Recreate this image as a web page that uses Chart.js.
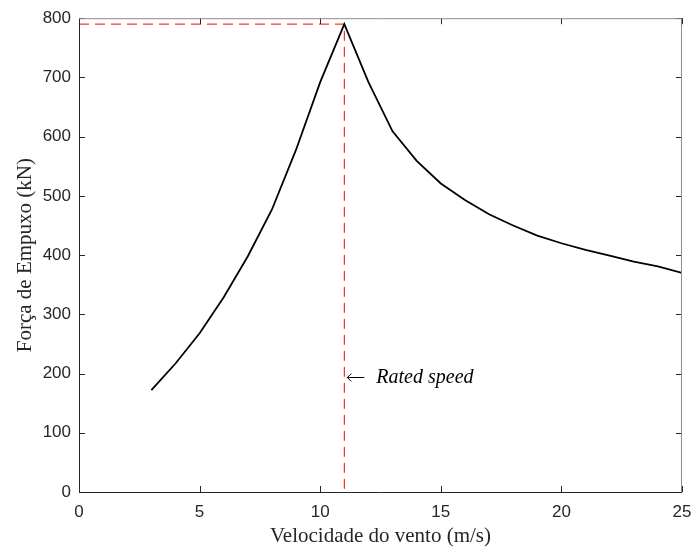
<!DOCTYPE html>
<html>
<head>
<meta charset="utf-8">
<script src="https://cdn.jsdelivr.net/npm/chart.js@4/dist/chart.umd.min.js"></script>
<style>
  html, body { margin: 0; padding: 0; background: #fff; }
  #wrap { width: 692px; height: 549px; }
</style>
</head>
<body>
<div id="wrap"><canvas id="thrustChart" width="692" height="549"></canvas></div>
<script>
const windSpeed = [3, 4, 5, 6, 7, 8, 9, 10, 11, 12, 13, 14, 15, 16, 17, 18, 19, 20, 21, 22, 23, 24, 25];
const thrust = [172, 217, 268, 329, 398, 477, 578, 692, 790, 692, 609, 559, 521, 493, 469, 450, 433, 420, 409, 399, 389, 381, 370];
const ratedSpeed = 11;
const ratedThrust = 790;
const xTicks = [0, 5, 10, 15, 20, 25];
const yTicks = [0, 100, 200, 300, 400, 500, 600, 700, 800];

const curve = windSpeed.map((v, i) => ({ x: v, y: thrust[i] }));
const ratedLine = [
  { x: 0, y: ratedThrust },
  { x: ratedSpeed, y: ratedThrust },
  { x: ratedSpeed, y: 0 }
];

// MATLAB style box with inward ticks + the text label
const framePlugin = {
  id: 'frame',
  afterDatasetsDraw(chart) {
    const { ctx, chartArea: a, scales: { x, y } } = chart;
    ctx.save();
    ctx.lineWidth = 1;
    ctx.strokeStyle = '#262626';
    ctx.beginPath();
    xTicks.forEach(t => {
      const px = Math.round(x.getPixelForValue(t)) + 0.5;
      ctx.moveTo(px, a.bottom); ctx.lineTo(px, a.bottom - 6);
      ctx.moveTo(px, a.top); ctx.lineTo(px, a.top + 6);
    });
    yTicks.forEach(t => {
      const py = Math.round(y.getPixelForValue(t)) + 0.5;
      ctx.moveTo(a.left, py); ctx.lineTo(a.left + 6, py);
      ctx.moveTo(a.right, py); ctx.lineTo(a.right - 6, py);
    });
    ctx.stroke();

    ctx.strokeStyle = '#262626';
    ctx.beginPath();
    ctx.moveTo(a.left + 0.5, a.top);
    ctx.lineTo(a.left + 0.5, a.bottom + 0.5);
    ctx.lineTo(a.right, a.bottom + 0.5);
    ctx.stroke();
    ctx.strokeStyle = '#8c8c8c';
    ctx.beginPath();
    ctx.moveTo(a.left, a.top + 0.5);
    ctx.lineTo(a.right - 0.5, a.top + 0.5);
    ctx.lineTo(a.right - 0.5, a.bottom);
    ctx.stroke();

    // arrow + label
    const lx = x.getPixelForValue(ratedSpeed);
    const ly = Math.round(y.getPixelForValue(195)) + 0.5;
    ctx.strokeStyle = '#000';
    ctx.lineWidth = 1;
    ctx.beginPath();
    ctx.moveTo(lx + 3, ly); ctx.lineTo(lx + 20, ly);
    ctx.moveTo(lx + 7, ly - 4); ctx.lineTo(lx + 3, ly); ctx.lineTo(lx + 7, ly + 4);
    ctx.stroke();
    ctx.fillStyle = '#000';
    ctx.textBaseline = 'middle';
    ctx.textAlign = 'left';
    ctx.font = 'italic 20px "Liberation Serif"';
    ctx.fillText('Rated speed', lx + 32, ly);
    ctx.restore();
  }
};

new Chart(document.getElementById('thrustChart'), {
  type: 'line',
  data: {
    datasets: [
      {
        data: curve,
        borderColor: '#000',
        borderWidth: 1.8,
        pointRadius: 0,
        tension: 0,
        fill: false
      },
      {
        data: ratedLine,
        borderColor: '#ff0000',
        borderWidth: 1,
        borderDash: [10, 6],
        pointRadius: 0,
        tension: 0,
        fill: false
      }
    ]
  },
  options: {
    responsive: false,
    animation: false,
    layout: { padding: { top: 17, right: 10, left: 0, bottom: 0 } },
    plugins: {
      legend: { display: false },
      tooltip: { enabled: false }
    },
    scales: {
      x: {
        type: 'linear',
        min: 0,
        max: 25,
        afterFit(scale) {
          scale.height = 57;
          scale.paddingRight = 0;
          scale.paddingLeft = 0;
        },
        afterBuildTicks(scale) { scale.ticks = xTicks.map(v => ({ value: v })); },
        grid: { display: false, drawTicks: false },
        border: { display: false },
        ticks: {
          color: '#262626',
          padding: 10,
          font: { family: '"Liberation Sans"', size: 17 }
        },
        title: {
          display: true,
          text: 'Velocidade do vento (m/s)',
          color: '#262626',
          padding: { top: 2, bottom: 0 },
          font: { family: '"Liberation Serif"', size: 21 }
        }
      },
      y: {
        min: 0,
        max: 800,
        afterFit(scale) { scale.width = 79; },
        afterBuildTicks(scale) { scale.ticks = yTicks.map(v => ({ value: v })); },
        grid: { display: false, drawTicks: false },
        border: { display: false },
        ticks: {
          color: '#262626',
          padding: 8,
          font: { family: '"Liberation Sans"', size: 17 }
        },
        title: {
          display: true,
          text: 'Força de Empuxo (kN)',
          color: '#262626',
          padding: { top: 13, bottom: 0 },
          font: { family: '"Liberation Serif"', size: 21 }
        }
      }
    }
  },
  plugins: [framePlugin]
});
</script>
</body>
</html>
